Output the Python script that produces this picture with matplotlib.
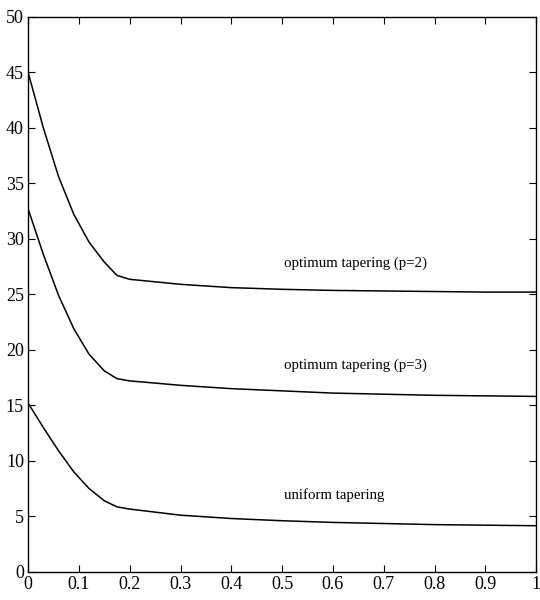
import matplotlib
matplotlib.use("Agg")
import matplotlib.pyplot as plt

# Data
x_p2 = [0.0, 0.03, 0.06, 0.09, 0.12, 0.15, 0.175, 0.2, 0.3, 0.4, 0.5, 0.6, 0.7, 0.8, 0.9, 1.0]
y_p2 = [45.0, 40.0, 35.6, 32.2, 29.7, 27.9, 26.7, 26.35, 25.9, 25.6, 25.45, 25.35, 25.3, 25.25, 25.2, 25.2]

x_p3 = [0.0, 0.03, 0.06, 0.09, 0.12, 0.15, 0.175, 0.2, 0.3, 0.4, 0.5, 0.6, 0.7, 0.8, 0.9, 1.0]
y_p3 = [32.7, 28.6, 24.9, 21.9, 19.6, 18.1, 17.4, 17.2, 16.8, 16.5, 16.3, 16.1, 16.0, 15.9, 15.85, 15.8]

x_uni = [0.0, 0.03, 0.06, 0.09, 0.12, 0.15, 0.175, 0.2, 0.3, 0.4, 0.5, 0.6, 0.7, 0.8, 0.9, 1.0]
y_uni = [15.2, 13.0, 10.9, 9.0, 7.5, 6.4, 5.85, 5.65, 5.1, 4.8, 4.6, 4.45, 4.35, 4.25, 4.2, 4.15]

labels = ["optimum tapering (p=2)", "optimum tapering (p=3)", "uniform tapering"]
label_pos = [(0.503, 27.8), (0.503, 18.6), (0.503, 6.9)]

xticks = [0, 0.1, 0.2, 0.3, 0.4, 0.5, 0.6, 0.7, 0.8, 0.9, 1]
xticklabels = ["0", "0.1", "0.2", "0.3", "0.4", "0.5", "0.6", "0.7", "0.8", "0.9", "1"]
yticks = [0, 5, 10, 15, 20, 25, 30, 35, 40, 45, 50]

plt.rcParams['font.family'] = ['Liberation Serif', 'DejaVu Serif']

fig = plt.figure(figsize=(5.4, 6.0), dpi=100)
ax = fig.add_axes([0.052, 0.047, 0.941, 0.925])

for xs, ys in [(x_p2, y_p2), (x_p3, y_p3), (x_uni, y_uni)]:
    ax.plot(xs, ys, color='black', linewidth=1.1)

for lab, (lx, ly) in zip(labels, label_pos):
    ax.text(lx, ly, lab, ha='left', va='center', fontsize=10.7)

ax.set_xlim(0, 1)
ax.set_ylim(0, 50)
ax.set_xticks(xticks)
ax.set_xticklabels(xticklabels)
ax.set_yticks(yticks)
ax.tick_params(direction='in', top=True, right=True, length=5, width=0.8,
               labelsize=13, pad=3)
for s in ax.spines.values():
    s.set_linewidth(1.0)

fig.savefig("out.png", dpi=100)
